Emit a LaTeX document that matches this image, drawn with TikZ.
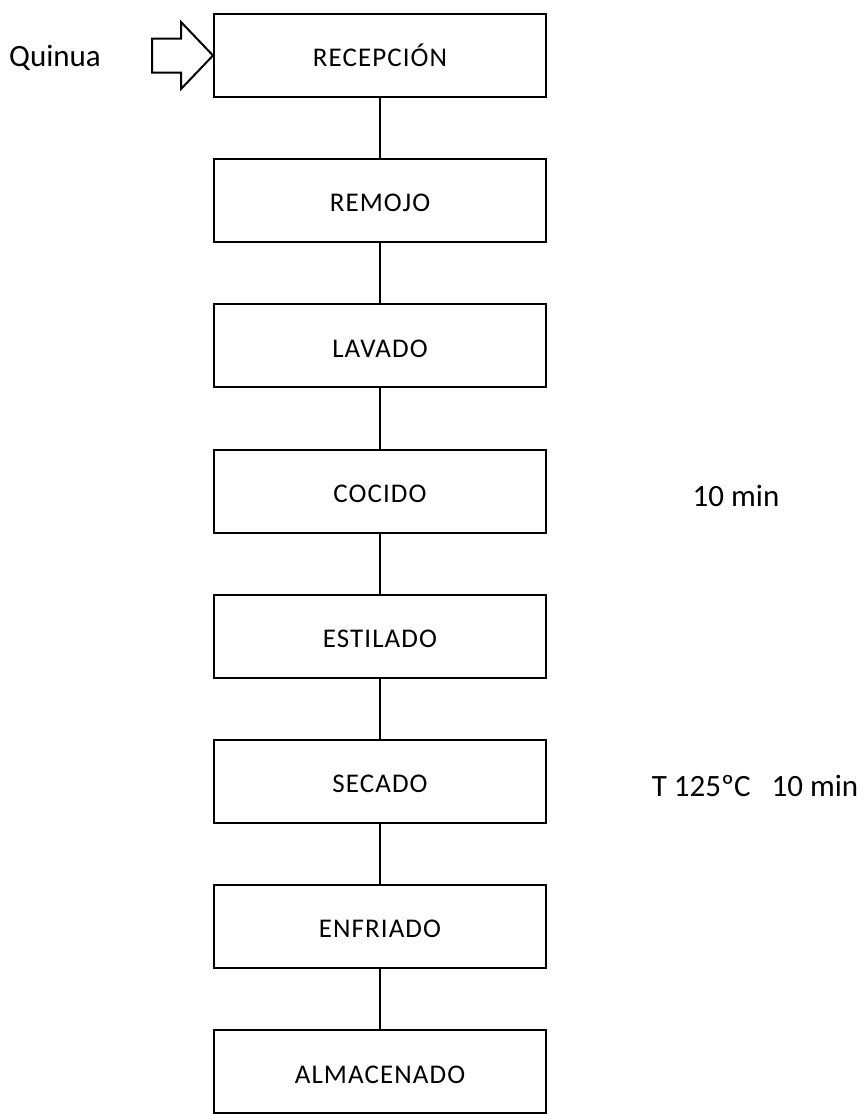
\documentclass[tikz,border=0pt]{standalone}
\usepackage{fontspec}
\setmainfont{Carlito}
\usepackage{tikz}
\usetikzlibrary{calc}

\begin{document}
\begin{tikzpicture}[x=1pt,y=-1pt,
    paso/.style={draw, line width=2pt, minimum width=332pt, minimum height=83pt, inner sep=0pt,
        text height=22.4pt, text depth=0pt, font=\fontsize{27}{30}\selectfont\addfontfeature{LetterSpace=4}},
    nota/.style={font=\fontsize{31}{34}\selectfont, inner sep=0pt, anchor=base}]
    \useasboundingbox (0,0) rectangle (867,1114);

    \node[paso] (rec) at (380,55.5) {RECEPCIÓN};
    \node[paso] (rem) at (380,200.7) {REMOJO};
    \node[paso] (lav) at (380,345.9) {LAVADO};
    \node[paso] (coc) at (380,491.1) {COCIDO};
    \node[paso] (est) at (380,636.3) {ESTILADO};
    \node[paso] (sec) at (380,781.5) {SECADO};
    \node[paso] (enf) at (380,926.7) {ENFRIADO};
    \node[paso] (alm) at (380,1071.9) {ALMACENADO};

    \draw [line width=2pt] (rec) -- (rem);
    \draw [line width=2pt] (rem) -- (lav);
    \draw [line width=2pt] (lav) -- (coc);
    \draw [line width=2pt] (coc) -- (est);
    \draw [line width=2pt] (est) -- (sec);
    \draw [line width=2pt] (sec) -- (enf);
    \draw [line width=2pt] (enf) -- (alm);

    % flecha de entrada
    \draw [line width=2pt, line join=miter] (rec.west) -- ++(-32,-33.5) -- ++(0,16.5) -- ++(-29,0)
        -- ++(0,34) -- ++(29,0) -- ++(0,16.5) -- cycle;
    \node[nota] (qui) at (55,66) {Quinua};

    \node[nota] (t1) at (736,506) {10 min};
    \node[nota] (t2) at (755,796) {T 125ºC\ \ \ 10 min};
\end{tikzpicture}
\end{document}
